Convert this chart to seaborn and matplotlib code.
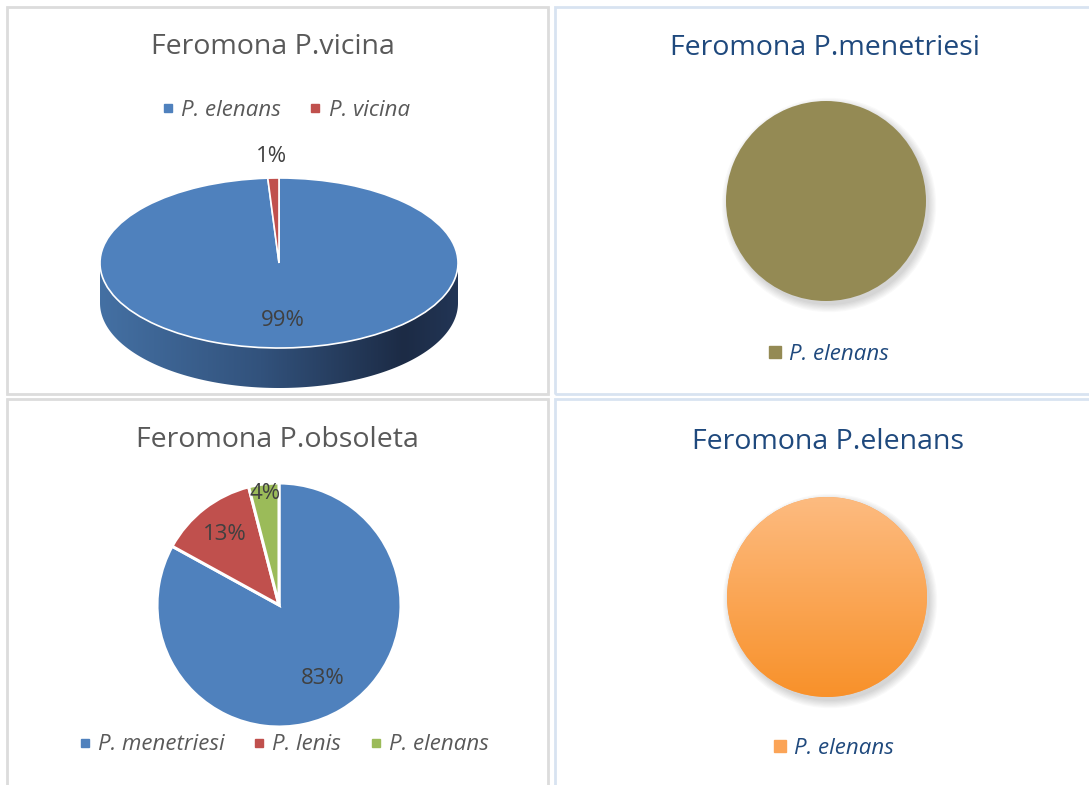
import numpy as np
import matplotlib
matplotlib.use("Agg")
import matplotlib.pyplot as plt
import seaborn as sns
from matplotlib.colors import LinearSegmentedColormap
from matplotlib.lines import Line2D
from matplotlib.patches import Polygon, Rectangle, Circle

# --- data ---
vicina_labels = ["P. elenans", "P. vicina"]
vicina_values = [99, 1]
menetriesi_labels = ["P. elenans"]
menetriesi_values = [100]
obsoleta_labels = ["P. menetriesi", "P. lenis", "P. elenans"]
obsoleta_values = [83, 13, 4]
elenans_labels = ["P. elenans"]
elenans_values = [100]
titles = ["Feromona P.vicina", "Feromona P.menetriesi",
          "Feromona P.obsoleta", "Feromona P.elenans"]

W, H = 1089, 785
sns.set_theme(style="white")
plt.rcParams["font.family"] = ["Open Sans", "DejaVu Sans"]

office = sns.color_palette(["#4f81bd", "#c0504d", "#9bbb59"])
OLIVE = "#948a54"
ORANGE = "#fba457"
GRAY = "#595959"
NAVY = "#1f497d"
LABEL = "#404040"

fig = plt.figure(figsize=(W / 100, H / 100), dpi=100)


def fx(x):
    return x / W


def fy(y):
    return 1 - y / H


def pie_axes(box, cx, cy, rx, ry):
    x0, y0, x1, y1 = box
    ax = fig.add_axes([fx(x0), fy(y1), (x1 - x0) / W, (y1 - y0) / H])
    ax.set_axis_off()
    lims = (((x0 - cx) / rx, (x1 - cx) / rx), ((cy - y1) / ry, (cy - y0) / ry))
    return ax, lims


def fix_limits(ax, lims):
    ax.set_aspect("auto")
    ax.set_xlim(*lims[0])
    ax.set_ylim(*lims[1])


def pct_labels(ax, values, radii, size=16):
    total = sum(values)
    cum = 0
    for v, r in zip(values, radii):
        mid = np.deg2rad(90 - 360 * (cum + v / 2) / total)
        ax.text(r * np.cos(mid), r * np.sin(mid), f"{v}%", ha="center",
                va="center", fontsize=size, color=LABEL, zorder=5)
        cum += v


def legend(labels, colors, x, y, ms, color):
    handles = [Line2D([], [], ls="", marker="s", ms=ms, mfc=c, mec=c) for c in colors]
    fig.legend(handles, labels, loc="center", bbox_to_anchor=(fx(x), fy(y)),
               bbox_transform=fig.transFigure, ncol=len(labels), frameon=False,
               prop={"style": "italic", "size": 16}, labelcolor=color,
               handletextpad=0.25, columnspacing=1.2, handlelength=0.7)


def title(text, x, y, color):
    fig.text(fx(x), fy(y), text, ha="center", va="center", fontsize=20.5, color=color)


def soft_shadow(ax):
    for i in range(7):
        ax.add_patch(Circle((0.03, -0.04), 1 + 0.012 * i, fc="black",
                            ec="none", alpha=0.025, zorder=0))


# panel borders
for (x0, y0, x1, y1), ec in [((6.5, 6.5, 548, 394), "#dcdcdc"),
                              ((555, 6.5, 1100, 394), "#d8e3f1"),
                              ((6.5, 398.5, 548, 800), "#dcdcdc"),
                              ((555, 398.5, 1100, 800), "#d8e3f1")]:
    fig.patches.append(Rectangle((fx(x0), fy(y1)), (x1 - x0) / W, (y1 - y0) / H,
                                 transform=fig.transFigure, fill=False, ec=ec, lw=2.0))

# --- top left: tilted pie ---
ax, lims = pie_axes((80, 140, 480, 400), 279, 263, 179, 85)
depth = 40 / 85
t = np.linspace(np.pi, 2 * np.pi, 200)
wall = np.vstack([np.column_stack([np.cos(t), np.sin(t)]),
                  np.column_stack([np.cos(t[::-1]), np.sin(t[::-1]) - depth])])
poly = Polygon(wall, closed=True, fc="none", ec="none")
ax.add_patch(poly)
wall_cmap = LinearSegmentedColormap.from_list(
    "wall", [(0, "#4470a3"), (0.45, "#32527c"), (0.85, "#1c2b45"), (1, "#223555")])
im = ax.imshow(np.linspace(0, 1, 256)[None, :], extent=(-1, 1, -1 - depth, 0),
               cmap=wall_cmap, aspect="auto", zorder=1)
im.set_clip_path(poly)
ax.pie(vicina_values, colors=office[:2], startangle=90, counterclock=False,
       wedgeprops=dict(ec="white", lw=1.2, zorder=2))
pct_labels(ax, vicina_values, [0.68, 1.25])
fix_limits(ax, lims)
title(titles[0], 273, 47, GRAY)
legend(vicina_labels, office[:2], 285, 110, 6, GRAY)

# --- top right: single olive pie ---
ax, lims = pie_axes((706, 81, 946, 321), 826, 201, 100, 100)
soft_shadow(ax)
ax.pie(menetriesi_values, colors=[OLIVE], startangle=90, counterclock=False,
       wedgeprops=dict(ec="none", zorder=2))
fix_limits(ax, lims)
title(titles[1], 825, 48, NAVY)
legend(menetriesi_labels, [OLIVE], 828, 354, 9, NAVY)

# --- bottom left: flat pie ---
ax, lims = pie_axes((140, 465, 420, 745), 279, 605, 122, 122)
ax.pie(obsoleta_values, colors=office, startangle=90, counterclock=False,
       wedgeprops=dict(ec="white", lw=2.2, zorder=2))
pct_labels(ax, obsoleta_values, [0.7, 0.73, 0.92])
fix_limits(ax, lims)
title(titles[2], 277, 440, GRAY)
legend(obsoleta_labels, office, 283, 745, 6, GRAY)

# --- bottom right: single orange gradient pie ---
ax, lims = pie_axes((707, 477, 947, 717), 827, 597, 100, 100)
soft_shadow(ax)
wedges, _ = ax.pie(elenans_values, colors=[ORANGE], startangle=90, counterclock=False,
                   wedgeprops=dict(ec="none", zorder=2))
orange_cmap = LinearSegmentedColormap.from_list("orange", ["#fdbb80", "#f8912a"])
im = ax.imshow(np.linspace(0, 1, 256)[:, None], extent=(-1, 1, -1, 1),
               cmap=orange_cmap, aspect="auto", zorder=3)
im.set_clip_path(wedges[0])
fix_limits(ax, lims)
title(titles[3], 828, 442, NAVY)
legend(elenans_labels, [ORANGE], 833, 748, 9, NAVY)

fig.savefig("out.png", dpi=100, facecolor="white")
